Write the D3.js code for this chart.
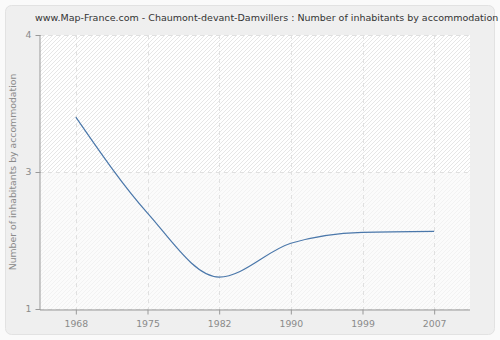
<!DOCTYPE html>
<html>
<head>
<meta charset="utf-8">
<script src="https://cdn.jsdelivr.net/npm/d3@7"></script>
<style>
html,body{margin:0;padding:0;background:#fafafa;}
svg{display:block;font-family:"DejaVu Sans",Verdana,sans-serif;}
</style>
</head>
<body>
<svg id="chart" width="500" height="340"></svg>
<script>
const title = "www.Map-France.com - Chaumont-devant-Damvillers : Number of inhabitants by accommodation";
const yLabel = "Number of inhabitants by accommodation";
const years = ["1968", "1975", "1982", "1990", "1999", "2007"];
const values = [3.10, 2.05, 1.35, 1.72, 1.84, 1.85];
const yTickValues = [1, 2.5, 4];
const yTickLabels = ["1", "3", "4"];

const svg = d3.select("#chart");
const W = 500, H = 340;
const m = {left: 40, right: 30, top: 35, bottom: 31};
const FS = 9.3;

// outer panel
svg.append("rect").attr("x", 5.5).attr("y", 5.5).attr("width", W - 11).attr("height", H - 11)
  .attr("rx", 6).attr("fill", "#efefef").attr("stroke", "#e2e2e2");

const defs = svg.append("defs");
const p1 = defs.append("pattern").attr("id", "hatch1").attr("patternUnits", "userSpaceOnUse")
  .attr("width", 4).attr("height", 4);
p1.append("rect").attr("width", 4).attr("height", 4).attr("fill", "#ffffff");
p1.append("path").attr("d", "M-1,1 l2,-2 M0,4 l4,-4 M3,5 l2,-2").attr("stroke", "#e6e6e6").attr("stroke-width", 1);
const p2 = defs.append("pattern").attr("id", "hatch2").attr("patternUnits", "userSpaceOnUse")
  .attr("width", 4).attr("height", 4);
p2.append("rect").attr("width", 4).attr("height", 4).attr("fill", "#fbfbfb");
p2.append("path").attr("d", "M-1,1 l2,-2 M0,4 l4,-4 M3,5 l2,-2").attr("stroke", "#f2f2f2").attr("stroke-width", 1);

const x = d3.scalePoint().domain(years).range([m.left, W - m.right]).padding(0.5);
const y = d3.scaleLinear().domain([1, 4]).range([H - m.bottom, m.top]);

const pl = m.left, pr = W - m.right, pt = m.top, pb = H - m.bottom;
svg.append("rect").attr("x", pl).attr("y", pt).attr("width", pr - pl).attr("height", y(2.5) - pt)
  .attr("fill", "url(#hatch1)");
svg.append("rect").attr("x", pl).attr("y", y(2.5)).attr("width", pr - pl).attr("height", pb - y(2.5))
  .attr("fill", "url(#hatch2)");

// grid
const grid = svg.append("g").attr("stroke", "#e0e0e0").attr("stroke-dasharray", "4,4").attr("stroke-width", 1);
years.forEach(d => {
  grid.append("line").attr("x1", Math.round(x(d)) + 0.5).attr("x2", Math.round(x(d)) + 0.5)
    .attr("y1", pt).attr("y2", pb);
});
yTickValues.forEach(v => {
  grid.append("line").attr("x1", pl).attr("x2", pr)
    .attr("y1", Math.round(y(v)) + 0.5).attr("y2", Math.round(y(v)) + 0.5);
});

// axes
const xAxis = d3.axisBottom(x).tickSize(5).tickPadding(6);
const gx = svg.append("g").attr("transform", `translate(0,${pb + 0.5})`).call(xAxis);
gx.select(".domain").attr("d", `M${pl},0.5H${pr}`).attr("stroke", "#999");
gx.selectAll(".tick line").attr("stroke", "#999");
gx.selectAll(".tick text").attr("fill", "#8a8a8a").attr("font-size", FS).attr("font-family", "DejaVu Sans, Verdana, sans-serif");

const yAxis = d3.axisLeft(y).tickValues(yTickValues).tickFormat((d, i) => yTickLabels[i]).tickSize(5).tickPadding(4);
const gy = svg.append("g").attr("transform", `translate(${pl + 0.5},0)`).call(yAxis);
gy.select(".domain").attr("d", `M-0.5,${pt}V${pb + 0.5}`).attr("stroke", "#999");
gy.selectAll(".tick line").attr("stroke", "#999");
gy.selectAll(".tick text").attr("fill", "#8a8a8a").attr("font-size", FS).attr("font-family", "DejaVu Sans, Verdana, sans-serif");

// line
const line = d3.line().x((d, i) => x(years[i])).y(d => y(d)).curve(d3.curveMonotoneX);
svg.append("path").datum(values).attr("d", line).attr("fill", "none")
  .attr("stroke", "#4a77aa").attr("stroke-width", 1.2);

// title
svg.append("text").attr("x", 35).attr("y", 21).attr("font-size", 9.5).attr("fill", "#333")
  .text(title);

// y label
svg.append("text").attr("transform", `translate(16,${(pt + pb) / 2}) rotate(-90)`)
  .attr("text-anchor", "middle").attr("font-size", FS).attr("fill", "#8a8a8a").text(yLabel);
</script>
</body>
</html>
